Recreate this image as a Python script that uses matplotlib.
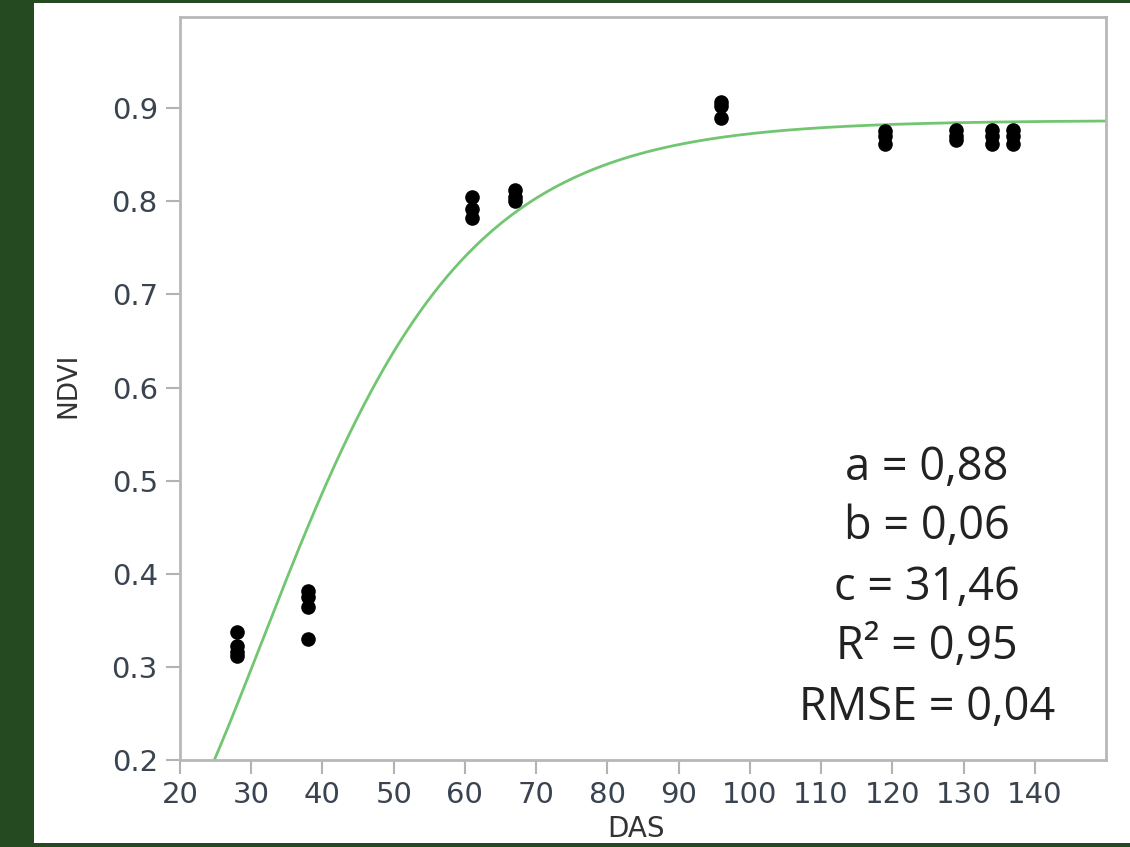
import numpy as np
import matplotlib
matplotlib.use('Agg')
import matplotlib.pyplot as plt
from matplotlib.patches import Rectangle

# observed NDVI by days after sowing
das = [28, 28, 28, 28,
       38, 38, 38, 38,
       61, 61, 61,
       67, 67, 67,
       96, 96, 96,
       119, 119, 119,
       129, 129, 129,
       134, 134, 134,
       137, 137, 137]
ndvi = [0.337, 0.322, 0.316, 0.312,
        0.382, 0.375, 0.364, 0.330,
        0.805, 0.792, 0.782,
        0.812, 0.805, 0.800,
        0.907, 0.902, 0.889,
        0.876, 0.870, 0.862,
        0.877, 0.870, 0.866,
        0.877, 0.870, 0.862,
        0.877, 0.870, 0.862]

# fitted Gompertz parameters (curve) and reported stats
a_fit, b_fit, c_fit = 0.887, 0.06, 31.46
stats_lines = ['a = 0,88', 'b = 0,06', 'c = 31,46', 'R² = 0,95', 'RMSE = 0,04']

x_ticks = list(range(20, 150, 10))
y_ticks = [0.2, 0.3, 0.4, 0.5, 0.6, 0.7, 0.8, 0.9]

W, H = 1130, 847
fig = plt.figure(figsize=(W / 100, H / 100), dpi=100)
fig.patch.set_facecolor('#254a22')
fig.patches.append(Rectangle((34 / W, 1 - 843 / H), (W - 34) / W, 840 / H,
                             transform=fig.transFigure, facecolor='white',
                             edgecolor='none', zorder=-5))

ax = fig.add_axes([180 / W, 1 - 760 / H, (1106 - 180) / W, (760 - 17) / H])
ax.set_facecolor('white')
ax.set_zorder(2)

xs = np.linspace(20, 150, 400)
ys = a_fit * np.exp(-np.exp(-b_fit * (xs - c_fit)))
ax.plot(xs, ys, color='#72c672', linewidth=2, zorder=2)
ax.plot(das, ndvi, 'o', color='black', markersize=10.5, markeredgewidth=0, zorder=3)

ax.set_xlim(20, 150)
ax.set_ylim(0.2, 0.998)
ax.set_xticks(x_ticks)
ax.set_yticks(y_ticks)
ax.set_yticklabels([f'{v:.1f}' for v in y_ticks])

tick_col = '#3a4450'
ax.tick_params(axis='both', direction='out', length=10, width=1.5, color='#b3b3b3',
               labelsize=21, labelcolor=tick_col)
ax.tick_params(axis='y', pad=6)
ax.tick_params(axis='x', pad=5)
for spine in ax.spines.values():
    spine.set_color('#b8b8b8')
    spine.set_linewidth(2)

fig.text(68 / W, 1 - 385 / H, 'NDVI', rotation=90, ha='center', va='center',
         fontsize=19, color='#333333', zorder=3)
fig.text(636 / W, 1 - 829 / H, 'DAS', ha='center', va='center',
         fontsize=20, color='#333333', zorder=3)

line_y = [468, 527, 588, 647, 708]
for txt, py in zip(stats_lines, line_y):
    fig.text(927 / W, 1 - py / H, txt, ha='center', va='center', zorder=3,
             fontsize=32.5, color='#222222', family=['Open Sans', 'DejaVu Sans'])

fig.savefig('out.png', dpi=100, facecolor=fig.get_facecolor())
